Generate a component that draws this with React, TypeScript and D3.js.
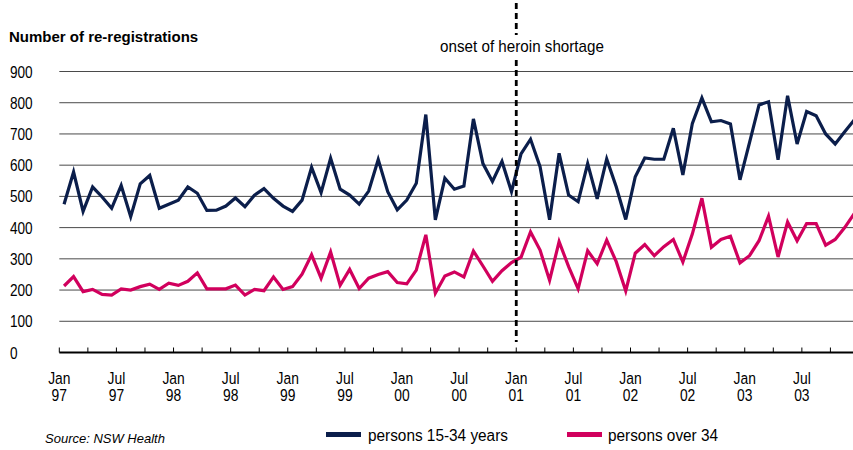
import React from "react";
import * as d3 from "d3";

const months = d3.range(84); // Jan 97 .. Dec 03
const young = [
  475, 578, 452, 530, 498, 462, 535, 435, 540, 567, 462, 475,
  488, 530, 510, 455, 456, 469, 495, 467, 504, 525, 494, 469,
  452, 488, 593, 512, 622, 523, 504, 475, 517, 618, 515, 457,
  488, 542, 762, 425, 558, 523, 533, 748, 605, 548, 612, 515,
  636, 683, 595, 425, 638, 504, 483, 605, 492, 620, 531, 426,
  563, 623, 619, 619, 718, 569, 734, 815, 739, 743, 732, 553,
  672, 793, 803, 617, 822, 668, 772, 758, 700, 668, 707, 745,
];
const older = [
  213, 243, 195, 202, 186, 184, 204, 200, 211, 219, 202, 222,
  215, 228, 255, 204, 204, 204, 216, 184, 202, 198, 242, 202,
  211, 251, 313, 238, 322, 215, 266, 205, 238, 250, 259, 224,
  220, 264, 377, 190, 245, 258, 242, 325, 277, 228, 262, 288,
  305, 386, 328, 231, 355, 275, 204, 326, 284, 360, 291, 197,
  318, 346, 310, 339, 362, 290, 380, 494, 337, 362, 372, 287,
  310, 358, 437, 306, 418, 358, 413, 413, 344, 362, 400, 445,
];
const yTicks = [0, 100, 200, 300, 400, 500, 600, 700, 800, 900];
const monthNames = ["Jan", "Jul"];
const seriesNames = ["persons 15-34 years", "persons over 34"];
const colors = ["#0b1e4b", "#d1005d"];

const FONT = "'Liberation Sans', Arial, sans-serif";

function T({
  x,
  y,
  sx = 1,
  anchor = "start",
  size,
  weight,
  italic,
  children,
}: {
  x: number;
  y: number;
  sx?: number;
  anchor?: string;
  size: number;
  weight?: string;
  italic?: boolean;
  children: React.ReactNode;
}) {
  return (
    <text
      transform={`translate(${x},${y}) scale(${sx},1)`}
      textAnchor={anchor}
      fontSize={size}
      fontWeight={weight}
      fontStyle={italic ? "italic" : undefined}
      fill="#000"
    >
      {children}
    </text>
  );
}

export default function App() {
  const W = 853, H = 450;
  const x = d3.scaleLinear().domain([0, 84]).range([59.3, 59.3 + 84 * 9.52]);
  const y = d3.scaleLinear().domain([0, 900]).range([352.5, 71.5]);
  const line = d3
    .line<number>()
    .x((_, i) => x(i + 0.5))
    .y((d) => y(d));
  const quarterTicks = d3.range(0, 85, 3);
  const labelTicks = d3.range(0, 84, 6);
  const xShort = x(48);

  return (
    <svg
      width={W}
      height={H}
      style={{ position: "absolute", left: 0, top: 0, background: "#fff" }}
      fontFamily={FONT}
    >
      <T x={9} y={42} size={15} weight="bold">
        Number of re-registrations
      </T>
      {yTicks.map((t) => (
        <g key={t}>
          {t > 0 && (
            <line x1={x(0)} x2={W} y1={y(t)} y2={y(t)} stroke="#4a4a4a" strokeWidth={1} />
          )}
          <T x={10} y={y(t) + 6} size={17} sx={0.8}>
            {t}
          </T>
        </g>
      ))}
      <line x1={x(0)} x2={W} y1={y(0)} y2={y(0)} stroke="#000" strokeWidth={2.2} />
      {quarterTicks.map((q) => (
        <line key={q} x1={x(q)} x2={x(q)} y1={y(0)} y2={y(0) - 5} stroke="#000" strokeWidth={1} />
      ))}
      {labelTicks.map((m) => (
        <g key={m}>
          <T x={x(m)} y={384} size={16.5} sx={0.84} anchor="middle">
            {monthNames[(m % 12) / 6]}
          </T>
          <T x={x(m)} y={401} size={16.5} sx={0.84} anchor="middle">
            {String(97 + Math.floor(m / 12)).slice(-2).padStart(2, "0")}
          </T>
        </g>
      ))}
      <path d={line(older) || ""} fill="none" stroke={colors[1]} strokeWidth={3.2} strokeLinejoin="miter" />
      <path d={line(young) || ""} fill="none" stroke={colors[0]} strokeWidth={3.2} strokeLinejoin="miter" />
      <line x1={xShort} x2={xShort} y1={3} y2={35} stroke="#000" strokeWidth={2.8} strokeDasharray="6,4" />
      <line x1={xShort} x2={xShort} y1={60} y2={342} stroke="#000" strokeWidth={2.8} strokeDasharray="6,4" />
      <T x={522} y={52} size={16} sx={0.95} anchor="middle">
        onset of heroin shortage
      </T>
      <T x={45} y={443} size={13} italic>
        Source: NSW Health
      </T>
      {seriesNames.map((s, i) => (
        <g key={s}>
          <rect x={326 + i * 241} y={432} width={35} height={5} fill={colors[i]} />
          <T x={368 + i * 240} y={441} size={16} sx={0.96}>
            {s}
          </T>
        </g>
      ))}
    </svg>
  );
}
